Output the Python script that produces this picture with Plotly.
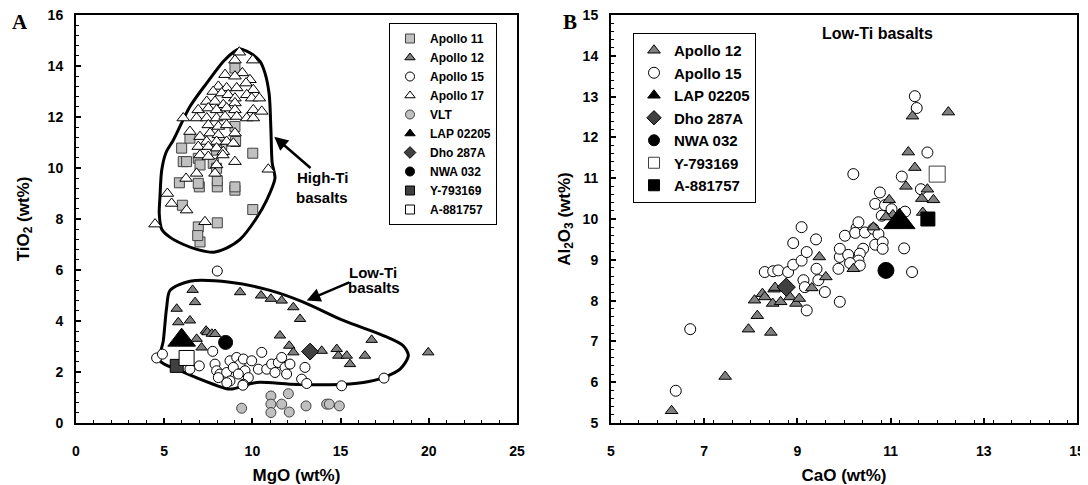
import plotly.graph_objects as go

# ---------------- Panel A data (MgO, TiO2 wt%) ----------------
a11_mgo = [9.01, 5.99, 6.08, 6.27, 6.93, 7.03, 7.78, 7.97, 5.86, 6.99, 8.01, 9.01, 10.02, 6.03, 10.02,
           6.93, 8.01, 9.05, 9.01, 6.46, 8.26, 6.93, 8.01, 9.01, 7.03, 6.90, 7.97]
a11_tio2 = [13.92, 10.78, 10.25, 10.25, 10.38, 10.12, 10.18, 9.99, 9.42, 9.26, 9.26, 9.13, 10.58, 8.54, 8.37,
            7.69, 7.85, 11.04, 11.63, 11.17, 10.90, 9.40, 9.50, 9.26, 7.10, 7.35, 10.70]

a17_mgo = [9.26, 10.02, 9.01, 8.45, 9.43, 9.01, 9.86, 8.07, 8.54, 9.11, 9.64, 10.05, 7.78, 8.26, 8.63,
           9.01, 9.68, 9.96, 10.39, 7.41, 7.88, 8.35, 9.01, 6.93, 7.50, 7.97, 8.54, 9.01, 10.05, 10.53,
           6.84, 7.41, 7.97, 8.45, 9.11, 9.68, 10.05, 6.08, 7.50, 8.07, 8.54, 6.46, 7.03, 7.60, 8.07,
           9.01, 7.41, 7.97, 8.54, 8.92, 6.93, 7.50, 7.97, 8.35, 7.03, 7.50, 8.32, 9.01, 7.97, 6.84,
           7.88, 6.24, 10.90, 5.18, 5.42, 6.27, 4.48, 7.31]
a17_tio2 = [14.54, 14.23, 14.23, 13.66, 13.73, 13.60, 13.46, 13.20, 13.14, 13.14, 13.33, 13.07, 13.00, 12.94, 12.87,
            12.74, 12.87, 12.74, 12.74, 12.61, 12.61, 12.48, 12.55, 12.28, 12.35, 12.28, 12.35, 12.28, 12.28, 12.22,
            11.96, 11.96, 11.96, 12.02, 12.02, 11.96, 11.96, 11.96, 11.69, 11.63, 11.69, 11.43, 11.23, 11.37, 11.30,
            11.37, 11.04, 11.04, 11.04, 10.97, 10.84, 10.84, 10.78, 10.64, 10.51, 10.45, 10.51, 10.25, 10.12, 9.79,
            9.79, 9.59, 9.95, 9.00, 8.61, 8.35, 7.80, 7.89]

a12_mgo_A = [6.61, 9.30, 10.49, 11.05, 11.66, 12.32, 12.70, 6.75, 5.71, 6.46, 5.80, 7.37, 7.45, 7.70, 7.88,
             6.84, 7.12, 11.56, 12.09, 12.32, 13.93, 14.78, 14.87, 15.35, 15.53, 16.38, 16.76, 19.97]
a12_tio2_A = [5.22, 5.13, 5.00, 4.87, 4.80, 4.54, 4.08, 4.74, 4.48, 4.02, 3.95, 3.62, 3.56, 3.50, 3.49,
              3.30, 2.96, 3.43, 3.03, 2.77, 2.83, 2.90, 2.64, 2.64, 2.31, 2.64, 3.26, 2.77]

a15_mgo_A = [8.01, 4.57, 4.90, 7.75, 6.99, 6.46, 7.88, 7.97, 8.16, 8.54, 8.73, 9.11, 9.30, 9.49, 9.58,
             9.77, 9.96, 10.34, 10.53, 10.81, 11.09, 11.28, 11.47, 11.66, 11.85, 11.94, 12.13, 8.73, 8.55,
             9.49, 12.98, 12.79, 13.08, 15.06, 17.46, 8.07, 8.92, 9.20, 9.46]
a15_tio2_A = [5.96, 2.55, 2.70, 2.81, 2.24, 2.11, 2.31, 2.05, 1.92, 1.98, 2.44, 2.57, 2.31, 2.51, 2.05,
              1.78, 2.44, 2.11, 2.77, 2.11, 2.31, 1.98, 2.37, 2.57, 2.18, 1.92, 2.31, 1.65, 1.58,
              1.52, 2.18, 1.72, 1.55, 1.46, 1.76, 1.78, 2.18, 1.92, 1.48]

vlt_mgo = [9.39, 11.05, 11.05, 11.05, 11.66, 12.04, 12.09, 13.04, 14.21, 14.36, 14.93]
vlt_tio2 = [0.58, 1.06, 0.74, 0.41, 0.74, 1.15, 0.43, 0.67, 0.74, 0.74, 0.67]

lap_A = (5.99, 3.25)
dho_A = (13.27, 2.80)
nwa_A = (8.48, 3.16)
y79_A = (5.71, 2.24)
a88_A = (6.27, 2.55)

# outlines of the compositional fields (MgO, TiO2)
hiti_mgo = [9.26, 9.90, 10.43, 10.71, 10.95, 11.05, 11.12, 11.28, 10.81, 10.20, 9.30, 8.50, 7.80, 6.90,
            6.10, 5.30, 4.86, 4.72, 4.76, 4.86, 5.10, 5.52, 6.46, 7.41, 8.35, 8.92, 9.26]
hiti_tio2 = [14.67, 14.50, 14.18, 13.73, 12.90, 11.50, 10.20, 9.60, 8.74, 8.00, 7.20, 6.85, 6.70, 6.80,
             7.00, 7.30, 7.60, 8.20, 8.87, 9.92, 10.60, 11.10, 12.41, 13.33, 14.18, 14.54, 14.67]
loti_mgo = [6.46, 8.73, 11.00, 12.89, 15.15, 17.42, 18.55, 18.84, 18.37, 17.42, 16.29, 14.40, 12.13, 10.24,
            8.73, 7.78, 5.90, 4.76, 4.95, 5.14, 5.33, 6.46]
loti_tio2 = [5.56, 5.52, 5.20, 4.74, 4.02, 3.43, 3.03, 2.64, 2.11, 1.78, 1.59, 1.50, 1.52, 1.59,
             1.33, 1.52, 2.05, 2.44, 3.23, 4.54, 5.20, 5.56]

# ---------------- Panel B data (CaO, Al2O3 wt%) ----------------
a12_cao_B = [6.30, 7.45, 7.95, 8.14, 8.43, 8.08, 8.25, 8.47, 8.64, 8.50, 8.30, 8.84, 8.97, 9.04, 8.52,
             9.31, 9.47, 9.61, 10.20, 10.63, 10.97, 11.05, 10.90, 11.33, 11.38, 11.52, 11.47, 12.24, 11.79,
             11.67, 11.92, 11.69]
a12_al_B = [5.30, 6.14, 7.30, 7.63, 7.22, 8.01, 8.17, 7.93, 7.97, 8.28, 8.09, 8.09, 7.93, 8.05, 8.32,
            8.31, 9.07, 8.58, 8.78, 9.80, 10.47, 10.10, 10.05, 10.80, 11.64, 11.26, 12.52, 12.62, 10.73,
            10.50, 10.47, 10.16]

a15_cao_B = [6.39, 6.70, 8.30, 8.48, 8.59, 8.80, 8.91, 9.09, 9.20, 8.91, 9.09, 9.40, 9.13, 9.45, 9.16,
             9.59, 9.91, 9.20, 9.41, 9.88, 9.91, 9.91, 10.02, 10.27, 10.31, 10.24, 10.45, 10.63, 10.74,
             10.67, 10.83, 10.83, 10.41, 10.34, 10.09, 10.31, 10.13, 10.34, 10.20, 10.77, 10.67, 10.88,
             11.02, 10.81, 11.31, 11.24, 11.65, 11.79, 11.52, 11.56, 11.29, 11.46]
a15_al_B = [5.79, 7.30, 8.70, 8.72, 8.74, 8.70, 8.88, 8.98, 9.19, 9.41, 9.80, 9.50, 8.50, 8.50, 8.33,
            8.21, 7.97, 7.76, 8.78, 8.78, 9.07, 9.27, 9.59, 9.78, 9.92, 9.66, 9.67, 9.76, 9.63,
            9.37, 9.43, 9.27, 9.27, 9.15, 9.12, 8.98, 8.92, 8.86, 11.10, 10.65, 10.37, 10.34,
            10.24, 10.08, 10.18, 11.04, 10.73, 11.63, 13.01, 12.72, 9.28, 8.70]

lap_B = (11.19, 9.93)
dho_B = (8.76, 8.33)
nwa_B = (10.90, 8.74)
y79_B = (12.00, 11.10)
a88_B = (11.80, 10.00)

legend_A = ["Apollo 11", "Apollo 12", "Apollo 15", "Apollo 17", "VLT",
            "LAP 02205", "Dho 287A", "NWA 032", "Y-793169", "A-881757"]
legend_B = ["Apollo 12", "Apollo 15", "LAP 02205", "Dho 287A", "NWA 032", "Y-793169", "A-881757"]

# ---------------- styles ----------------
FONT = "Arial, 'Liberation Sans', sans-serif"
SERIF = "'Times New Roman', 'Liberation Serif', serif"
LGRAY = "#c0c0c0"
MGRAY = "#808080"
DGRAY = "#404040"

sty_A = {
    "Apollo 11": dict(symbol="square", color=LGRAY, line=dict(color="#404040", width=1), size=10),
    "Apollo 12": dict(symbol="triangle-up", color=MGRAY, line=dict(color="black", width=1), size=10),
    "Apollo 15": dict(symbol="circle", color="white", line=dict(color="black", width=1), size=10),
    "Apollo 17": dict(symbol="triangle-up", color="white", line=dict(color="black", width=1), size=11),
    "VLT": dict(symbol="circle", color=LGRAY, line=dict(color="#404040", width=1), size=10),
    "LAP 02205": dict(symbol="triangle-up", color="black", line=dict(color="black", width=1), size=24),
    "Dho 287A": dict(symbol="diamond", color=DGRAY, line=dict(color="black", width=1), size=13),
    "NWA 032": dict(symbol="circle", color="black", line=dict(color="black", width=1), size=14),
    "Y-793169": dict(symbol="square", color=DGRAY, line=dict(color="black", width=1), size=13),
    "A-881757": dict(symbol="square", color="white", line=dict(color="black", width=1), size=15),
}
sty_B = {
    "Apollo 12": dict(symbol="triangle-up", color=MGRAY, line=dict(color="black", width=1), size=11),
    "Apollo 15": dict(symbol="circle", color="white", line=dict(color="black", width=1), size=11),
    "LAP 02205": dict(symbol="triangle-up", color="black", line=dict(color="black", width=1), size=27),
    "Dho 287A": dict(symbol="diamond", color=DGRAY, line=dict(color="black", width=1), size=14),
    "NWA 032": dict(symbol="circle", color="black", line=dict(color="black", width=1), size=16),
    "Y-793169": dict(symbol="square", color="white", line=dict(color="#404040", width=1), size=16),
    "A-881757": dict(symbol="square", color="black", line=dict(color="black", width=1), size=14),
}

fig = go.Figure()


def pts(x, y, style, xa, ya):
    fig.add_trace(go.Scatter(x=x, y=y, mode="markers", marker=style, xaxis=xa, yaxis=ya,
                             showlegend=False, hoverinfo="x+y"))


# Panel A field outlines
for fx, fy in [(hiti_mgo, hiti_tio2), (loti_mgo, loti_tio2)]:
    fig.add_trace(go.Scatter(x=fx, y=fy, mode="lines",
                             line=dict(color="black", width=3, shape="spline", smoothing=0.8),
                             xaxis="x", yaxis="y", showlegend=False, hoverinfo="skip"))

pts(a11_mgo, a11_tio2, sty_A["Apollo 11"], "x", "y")
pts(a17_mgo, a17_tio2, sty_A["Apollo 17"], "x", "y")
pts(vlt_mgo, vlt_tio2, sty_A["VLT"], "x", "y")
pts(a15_mgo_A, a15_tio2_A, sty_A["Apollo 15"], "x", "y")
pts(a12_mgo_A, a12_tio2_A, sty_A["Apollo 12"], "x", "y")
for name, p in [("LAP 02205", lap_A), ("Dho 287A", dho_A), ("NWA 032", nwa_A),
                ("Y-793169", y79_A), ("A-881757", a88_A)]:
    pts([p[0]], [p[1]], sty_A[name], "x", "y")

# Panel B
pts(a15_cao_B, a15_al_B, sty_B["Apollo 15"], "x2", "y2")
pts(a12_cao_B, a12_al_B, sty_B["Apollo 12"], "x2", "y2")
for name, p in [("Dho 287A", dho_B), ("NWA 032", nwa_B), ("Y-793169", y79_B),
                ("A-881757", a88_B), ("LAP 02205", lap_B)]:
    pts([p[0]], [p[1]], sty_B[name], "x2", "y2")

# legend entries (small symbols as in the original key)
for name in legend_A:
    s = dict(sty_A[name])
    s["size"] = 9
    fig.add_trace(go.Scatter(x=[None], y=[None], mode="markers", marker=s, name=name,
                             xaxis="x", yaxis="y", legend="legend", showlegend=True))
for name in legend_B:
    s = dict(sty_B[name])
    s["size"] = 11
    fig.add_trace(go.Scatter(x=[None], y=[None], mode="markers", marker=s, name=name,
                             xaxis="x2", yaxis="y2", legend="legend2", showlegend=True))

TICKF = dict(family=FONT, size=14, color="black", weight="bold")
TITLEF = dict(family=FONT, size=17, color="black", weight="bold")


def ax(rng, dtick, minor, domain, title, anchor, standoff, lblstand):
    return dict(range=rng, dtick=dtick, tick0=rng[0], domain=domain, anchor=anchor,
                ticks="inside", ticklen=5, tickwidth=1.5, tickcolor="black",
                minor=dict(dtick=minor, ticks="inside", ticklen=3, tickwidth=1, tickcolor="black"),
                showline=True, linecolor="black", linewidth=2, mirror=True,
                showgrid=False, zeroline=False, tickfont=TICKF,
                title=dict(text=title, font=TITLEF, standoff=standoff),
                ticklabelstandoff=lblstand, ticklabeloverflow="allow", automargin=False)


xa_dom = [0, 441 / 1001]
xb_dom = [535 / 1001, 1.0]

# the page adds an 8px body margin, so the figure is 8px smaller than the window
fig.update_layout(
    width=1080, height=477, template="none",
    margin=dict(l=68, r=11, t=7, b=62),
    paper_bgcolor="white", plot_bgcolor="white",
    font=dict(family=FONT, color="black"),
    xaxis=ax([0, 25], 5, 1, xa_dom, "MgO (wt%)", "y", 12, 14),
    yaxis=ax([0, 16], 2, 0.4, [0, 1], "TiO<sub>2</sub> (wt%)", "x", 14, 8),
    xaxis2=ax([5, 15], 2, 0.4, xb_dom, "CaO (wt%)", "y2", 12, 14),
    yaxis2=ax([5, 15], 1, 0.2, [0, 1], "Al<sub>2</sub>O<sub>3</sub> (wt%)", "x2", 8, 8),
    legend=dict(x=(497 - 76) / 1001, xanchor="right", y=(423 - 23) / 408, yanchor="top",
                bgcolor="white", bordercolor="black", borderwidth=1,
                font=dict(family=FONT, size=12, color="black", weight="bold"),
                itemwidth=30, tracegroupgap=0),
    legend2=dict(x=(633 - 76) / 1001, xanchor="left", y=(423 - 33) / 408, yanchor="top",
                 bgcolor="white", bordercolor="black", borderwidth=1,
                 font=dict(family=FONT, size=15, color="black", weight="bold"),
                 itemwidth=30, tracegroupgap=0),
)

ann = []
ann.append(dict(text="A", xref="paper", yref="paper", x=(20 - 76) / 1001, y=(423 - 8) / 408,
                xanchor="center", yanchor="top", showarrow=False,
                font=dict(family=SERIF, size=21, color="black", weight="bold")))
ann.append(dict(text="B", xref="paper", yref="paper", x=(570 - 76) / 1001, y=(423 - 8) / 408,
                xanchor="center", yanchor="top", showarrow=False,
                font=dict(family=SERIF, size=21, color="black", weight="bold")))
ann.append(dict(text="Low-Ti basalts", xref="paper", yref="paper", x=(877 - 76) / 1001,
                y=(423 - 34) / 408, xanchor="center", yanchor="middle", showarrow=False,
                font=dict(family=FONT, size=16, color="black", weight="bold")))
LF = dict(family=FONT, size=15, color="black", weight="bold")
# field labels with arrows pointing to the outlines
ann.append(dict(text="High-Ti", xref="x", yref="y", x=11.24, y=11.23, axref="x", ayref="y",
                ax=13.95, ay=9.61, showarrow=True, arrowhead=2, arrowsize=1.1, arrowwidth=2.5,
                arrowcolor="black", standoff=0, font=LF))
ann.append(dict(text="basalts", xref="x", yref="y", x=13.95, y=8.86, showarrow=False, font=LF))
ann.append(dict(text="Low-Ti", xref="x", yref="y", x=13.08, y=4.80, axref="x", ayref="y",
                ax=16.81, ay=5.91, showarrow=True, arrowhead=2, arrowsize=1.1, arrowwidth=2.5,
                arrowcolor="black", standoff=0, font=LF))
ann.append(dict(text="basalts", xref="x", yref="y", x=16.89, y=5.31, showarrow=False, font=LF))
fig.update_layout(annotations=ann)

fig.write_html("out.html")
